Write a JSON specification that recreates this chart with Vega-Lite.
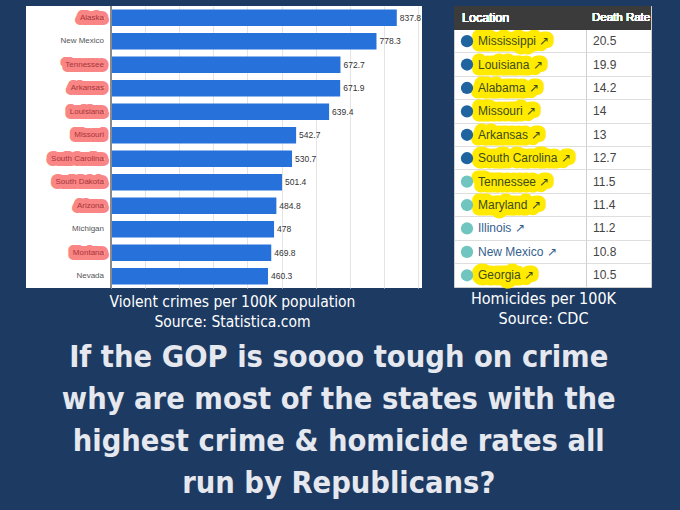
{
  "$schema": "https://vega.github.io/schema/vega-lite/v6.json",
  "background": "#1d3a62",
  "padding": {"left": 26, "top": 5, "right": 29, "bottom": 14},
  "config": {"font": "Liberation Sans", "concat": {"spacing": 0}},
  "bounds": "flush",
  "title": {
    "text": ["If the GOP is soooo tough on crime", "why are most of the states with the", "highest crime & homicide rates all", "run by Republicans?"],
    "orient": "bottom", "anchor": "middle",
    "font": "Liberation Sans Narrow, DejaVu Sans Condensed, sans-serif",
    "fontSize": 30.5, "fontWeight": "bold", "color": "#e6e8ef",
    "lineHeight": 42, "offset": 13
  },
  "spacing": 32,
  "hconcat": [
    {
      "width": 396, "height": 282,
      "view": {"fill": "white", "stroke": null},
      "data": {"values": [
        {"state": "Alaska", "rate": 837.8, "gop": true},
        {"state": "New Mexico", "rate": 778.3, "gop": false},
        {"state": "Tennessee", "rate": 672.7, "gop": true},
        {"state": "Arkansas", "rate": 671.9, "gop": true},
        {"state": "Louisiana", "rate": 639.4, "gop": true},
        {"state": "Missouri", "rate": 542.7, "gop": true},
        {"state": "South Carolina", "rate": 530.7, "gop": true},
        {"state": "South Dakota", "rate": 501.4, "gop": true},
        {"state": "Arizona", "rate": 484.8, "gop": true},
        {"state": "Michigan", "rate": 478, "gop": false},
        {"state": "Montana", "rate": 469.8, "gop": true},
        {"state": "Nevada", "rate": 460.3, "gop": false}
      ]},
      "layer": [
        {
          "mark": {"type": "bar", "color": "#2771da"},
          "encoding": {
            "x": {"field": "rate", "type": "quantitative",
              "scale": {"domain": [0, 900], "range": [85, 392], "nice": false},
              "axis": {"grid": true, "gridColor": "#e4e4e4", "labels": false, "ticks": false, "domain": false,
                "values": [0, 100, 200, 300, 400, 500, 600, 700, 800, 900],
                "title": ["Violent crimes per 100K population", "Source: Statistica.com"],
                "titleColor": "white", "titleFont": "Liberation Sans Narrow, DejaVu Sans Condensed, sans-serif",
                "titleFontSize": 15.5, "titleFontWeight": "normal", "titlePadding": 6, "titleLineHeight": 20,
                "titleX": 206, "titleAlign": "center"}},
            "y": {"field": "state", "type": "nominal", "sort": {"field": "rate", "order": "descending"},
              "scale": {"paddingInner": 0.3, "paddingOuter": 0.15}, "axis": null}
          }
        },
        {
          "mark": {"type": "rule", "color": "#8a8a8a", "strokeWidth": 1},
          "encoding": {"x": {"datum": 0, "type": "quantitative"}}
        },
        {
          "mark": {"type": "text", "align": "right", "baseline": "middle", "dx": -7, "fontSize": 8, "strokeWidth": 10, "strokeJoin": "round"},
          "encoding": {
            "x": {"datum": 0, "type": "quantitative"},
            "y": {"field": "state", "type": "nominal", "sort": {"field": "rate", "order": "descending"}},
            "text": {"field": "state"},
            "fill": {"condition": {"test": "datum.gop", "value": "#f98585"}, "value": "transparent"},
            "stroke": {"condition": {"test": "datum.gop", "value": "#f98585"}, "value": "transparent"}
          }
        },
        {
          "mark": {"type": "text", "align": "right", "baseline": "middle", "dx": -7, "fontSize": 8},
          "encoding": {
            "x": {"datum": 0, "type": "quantitative"},
            "y": {"field": "state", "type": "nominal", "sort": {"field": "rate", "order": "descending"}},
            "text": {"field": "state"},
            "fill": {"condition": {"test": "datum.gop", "value": "#a8353a"}, "value": "#555555"}
          }
        },
        {
          "mark": {"type": "text", "align": "left", "baseline": "middle", "dx": 3, "fontSize": 8.5, "color": "#333333"},
          "encoding": {
            "x": {"field": "rate", "type": "quantitative"},
            "y": {"field": "state", "type": "nominal", "sort": {"field": "rate", "order": "descending"}},
            "text": {"field": "rate", "type": "quantitative"}
          }
        }
      ]
    },
    {
      "title": {"text": ["Homicides per 100K", "Source: CDC"], "orient": "bottom", "anchor": "middle",
        "color": "white", "font": "Liberation Sans Narrow, DejaVu Sans Condensed, sans-serif",
        "fontSize": 16, "fontWeight": "normal", "lineHeight": 20, "offset": 3, "dx": -9},
      "spacing": 0,
      "bounds": "flush",
      "data": {"values": [
        {"state": "Mississippi", "rate": 20.5, "gop": true},
        {"state": "Louisiana", "rate": 19.9, "gop": true},
        {"state": "Alabama", "rate": 14.2, "gop": true},
        {"state": "Missouri", "rate": 14, "gop": true},
        {"state": "Arkansas", "rate": 13, "gop": true},
        {"state": "South Carolina", "rate": 12.7, "gop": true},
        {"state": "Tennessee", "rate": 11.5, "gop": true},
        {"state": "Maryland", "rate": 11.4, "gop": true},
        {"state": "Illinois", "rate": 11.2, "gop": false},
        {"state": "New Mexico", "rate": 10.8, "gop": false},
        {"state": "Georgia", "rate": 10.5, "gop": true}
      ]},
      "transform": [{"calculate": "datum.state + ' \u2197'", "as": "label"}],
      "hconcat": [
        {
          "width": 132, "height": 281,
          "view": {"fill": "white", "stroke": "#cfcfcf"},
          "layer": [
            {
              "mark": {"type": "text", "align": "left", "baseline": "middle", "dx": 24, "fontSize": 12, "strokeWidth": 13, "strokeJoin": "round"},
              "encoding": {
                "x": {"datum": 0, "type": "quantitative", "scale": {"domain": [0, 1]}, "axis": null},
                "y": {"field": "state", "type": "nominal",
                  "scale": {"domain": ["header", "Mississippi", "Louisiana", "Alabama", "Missouri", "Arkansas", "South Carolina", "Tennessee", "Maryland", "Illinois", "New Mexico", "Georgia"], "paddingInner": 0, "paddingOuter": 0},
                  "axis": {"labels": false, "ticks": false, "domain": false, "title": null, "grid": true, "gridColor": "#dedede", "bandPosition": 0}},
                "text": {"field": "label"},
                "fill": {"condition": {"test": "datum.gop", "value": "#ffea00"}, "value": "transparent"},
                "stroke": {"condition": {"test": "datum.gop", "value": "#ffea00"}, "value": "transparent"}
              }
            },
            {
              "mark": {"type": "rect", "color": "#3b3b3b"},
              "encoding": {"y": {"datum": "header", "type": "nominal"}}
            },
            {
              "mark": {"type": "text", "align": "left", "baseline": "middle", "dx": 8, "fontSize": 12.5, "color": "white"},
              "encoding": {
                "x": {"datum": 0, "type": "quantitative"},
                "y": {"datum": "header", "type": "nominal"},
                "text": {"value": "Location"}
              }
            },
            {
              "mark": {"type": "point", "filled": true, "opacity": 1, "size": 150, "xOffset": 13},
              "encoding": {
                "x": {"datum": 0, "type": "quantitative"},
                "y": {"field": "state", "type": "nominal"},
                "color": {"field": "rate", "type": "quantitative", "scale": {"type": "threshold", "domain": [12], "range": ["#70c5c1", "#1f639f"]}, "legend": null}
              }
            },
            {
              "mark": {"type": "text", "align": "left", "baseline": "middle", "dx": 24, "fontSize": 12},
              "encoding": {
                "x": {"datum": 0, "type": "quantitative"},
                "y": {"field": "state", "type": "nominal"},
                "text": {"field": "label"},
                "fill": {"condition": {"test": "datum.gop", "value": "#3e4a1c"}, "value": "#35608e"}
              }
            }
          ]
        },
        {
          "width": 65, "height": 281,
          "view": {"fill": "white", "stroke": "#cfcfcf"},
          "layer": [
            {
              "mark": {"type": "text", "align": "left", "baseline": "middle", "dx": 7, "fontSize": 12, "color": "#444444"},
              "encoding": {
                "x": {"datum": 0, "type": "quantitative", "scale": {"domain": [0, 1]}, "axis": null},
                "y": {"field": "state", "type": "nominal",
                  "scale": {"domain": ["header", "Mississippi", "Louisiana", "Alabama", "Missouri", "Arkansas", "South Carolina", "Tennessee", "Maryland", "Illinois", "New Mexico", "Georgia"], "paddingInner": 0, "paddingOuter": 0},
                  "axis": {"labels": false, "ticks": false, "domain": false, "title": null, "grid": true, "gridColor": "#dedede", "bandPosition": 0}},
                "text": {"field": "rate", "type": "quantitative"}
              }
            },
            {
              "mark": {"type": "rect", "color": "#3b3b3b"},
              "encoding": {"y": {"datum": "header", "type": "nominal"}}
            },
            {
              "mark": {"type": "text", "align": "left", "baseline": "middle", "dx": 6, "fontSize": 11.5, "color": "white"},
              "encoding": {
                "x": {"datum": 0, "type": "quantitative"},
                "y": {"datum": "header", "type": "nominal"},
                "text": {"value": "Death Rate"}
              }
            }
          ]
        }
      ]
    }
  ]
}
